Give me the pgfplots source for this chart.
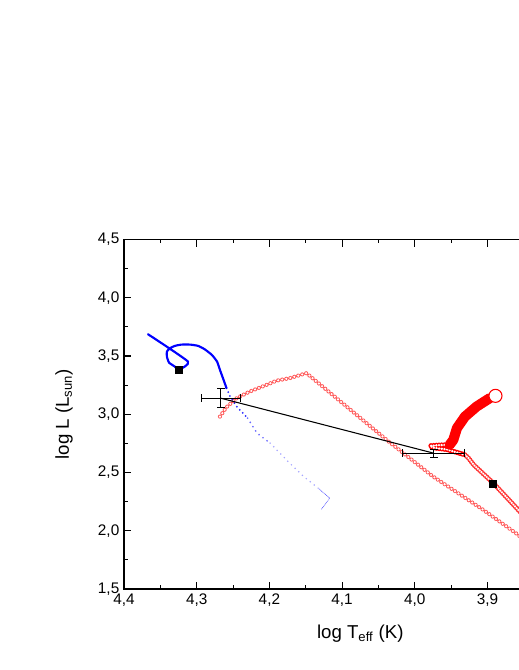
\documentclass[border=0pt]{standalone}
\usepackage{fontspec}
\setmainfont{Liberation Sans}
\usepackage{pgfplots}
\usepackage{pgfplotstable}
\pgfplotsset{compat=1.18}

% thin red evolutionary track (open circles)
\pgfplotstableread{
x y
4.268 2.980
4.259 3.061
4.245 3.138
4.227 3.195
4.204 3.252
4.190 3.289
4.172 3.310
4.149 3.353
4.036 2.766
3.975 2.466
3.906 2.180
3.858 1.966
3.830 1.800
}\redthin
% thick red track, upper part
\pgfplotstableread{
x y
3.897 3.138
3.915 3.066
3.931 2.980
3.942 2.881
3.947 2.780
3.952 2.738
}\redtop
% hook
\pgfplotstableread{
x y
3.952 2.738
3.966 2.735
3.979 2.729
3.974 2.712
3.956 2.698
3.931 2.652
}\redhook
% lower part
\pgfplotstableread{
x y
3.931 2.652
3.926 2.623
3.919 2.566
3.892 2.409
3.860 2.195
3.840 2.060
}\redlow
% blue track, solid part
\pgfplotstableread{
x y
4.367 3.687
4.312 3.452
4.325 3.381
4.330 3.409
4.338 3.443
4.341 3.495
4.341 3.538
4.337 3.567
4.330 3.587
4.321 3.598
4.309 3.598
4.298 3.587
4.289 3.558
4.279 3.509
4.272 3.452
4.268 3.381
4.263 3.295
4.259 3.224
}\bluesolid

\begin{document}
\begin{tikzpicture}
\begin{axis}[
  name=ax,
  at={(93pt,60.75pt)}, anchor=south west,
  scale only axis, width=354.4pt, height=262.1pt,
  x dir=reverse, xmin=3.75, xmax=4.4, ymin=1.5, ymax=4.5,
  xtick={3.9,4.0,4.1,4.2,4.3,4.4},
  minor xtick={3.85,3.95,4.05,4.15,4.25,4.35},
  ytick={1.5,2.0,2.5,3.0,3.5,4.0,4.5},
  minor ytick={1.75,2.25,2.75,3.25,3.75,4.25},
  tick align=inside,
  major tick length=5.6pt, minor tick length=2.8pt,
  every tick/.style={black, line width=0.8pt},
  axis line style={line width=1.1pt},
  ticklabel style={font=\fontsize{11.5}{13}\selectfont},
  /pgf/number format/use comma,
  /pgf/number format/fixed,
  /pgf/number format/fixed zerofill,
  /pgf/number format/precision=1,
  /pgf/number format/assume math mode=true,
  label style={font=\fontsize{14}{16}\selectfont},
  xlabel={log T\textsubscript{eff} (K)},
  ylabel={log L (L\textsubscript{sun})},
  xlabel shift=7pt,
  ylabel shift=12pt,
  clip=true,
]
% thin red track as a chain of rings
\addplot[red!65, line width=3.1pt, line cap=round, dash pattern=on 0pt off 3.1pt] table {\redthin};
\addplot[white, line width=1.8pt, line cap=round, dash pattern=on 0pt off 3.1pt] table {\redthin};
% thick red track
\addplot[red!80, line width=3.8pt, line cap=round, dash pattern=on 0pt off 1.8pt] table {\redlow};
\addplot[white, line width=1.8pt, line cap=round, dash pattern=on 0pt off 1.8pt] table {\redlow};
\addplot[red, line width=4pt, line cap=round, dash pattern=on 0pt off 2pt] table {\redhook};
\addplot[white, line width=1.9pt, line cap=round, dash pattern=on 0pt off 2pt] table {\redhook};
\addplot[red, line width=7.6pt, line cap=round, line join=round] table {\redtop};
\addplot[red, only marks, mark=*, mark size=4.9pt, mark options={fill=white, line width=0.8pt}] coordinates {(3.889,3.158)};
% blue track
\addplot[blue, line width=1.6pt, line join=round, line cap=round, smooth, tension=0.3] table {\bluesolid};
\addplot[blue, opacity=0.85, line width=1.5pt, line cap=round, dash pattern=on 0pt off 3.2pt] coordinates {(4.259,3.224) (4.254,3.152) (4.245,3.066) (4.230,2.967)};
\addplot[blue, opacity=0.6, line width=1.4pt, line cap=round, dash pattern=on 0pt off 3.8pt] coordinates {(4.230,2.967) (4.217,2.838) (4.199,2.752)};
\addplot[blue, opacity=0.35, line width=1.3pt, line cap=round, dash pattern=on 0pt off 3.8pt] coordinates {(4.199,2.752) (4.172,2.580) (4.153,2.466) (4.133,2.366)};
\addplot[blue, opacity=0.6, line width=0.8pt, line cap=round, dash pattern=on 0pt off 1.2pt] coordinates {(4.133,2.366) (4.117,2.280) (4.129,2.180)};
% observed positions joined by a line
\addplot[black, line width=0.8pt] coordinates {(4.267,3.138) (3.974,2.666)};
% error bars: horizontal (log Teff) with vertical caps
\addplot[black, line width=0.8pt, mark=|, mark size=3pt] coordinates {(4.294,3.138) (4.240,3.138)};
\addplot[black, line width=0.8pt, mark=|, mark size=3pt] coordinates {(4.017,2.666) (3.931,2.666)};
% error bars: vertical (log L) with horizontal caps
\addplot[black, line width=0.8pt, mark=-, mark size=3pt] coordinates {(4.267,3.218) (4.267,3.058)};
\addplot[black, line width=0.8pt, mark=-, mark size=3pt] coordinates {(3.974,2.701) (3.974,2.631)};
% black squares
\addplot[black, only marks, mark=square*, mark size=2.7pt] coordinates {(4.325,3.381) (3.893,2.405)};
\end{axis}
\pgfresetboundingbox
\path[use as bounding box] (0pt,0pt) rectangle (388.5pt,502.5pt);
\end{tikzpicture}
\end{document}
